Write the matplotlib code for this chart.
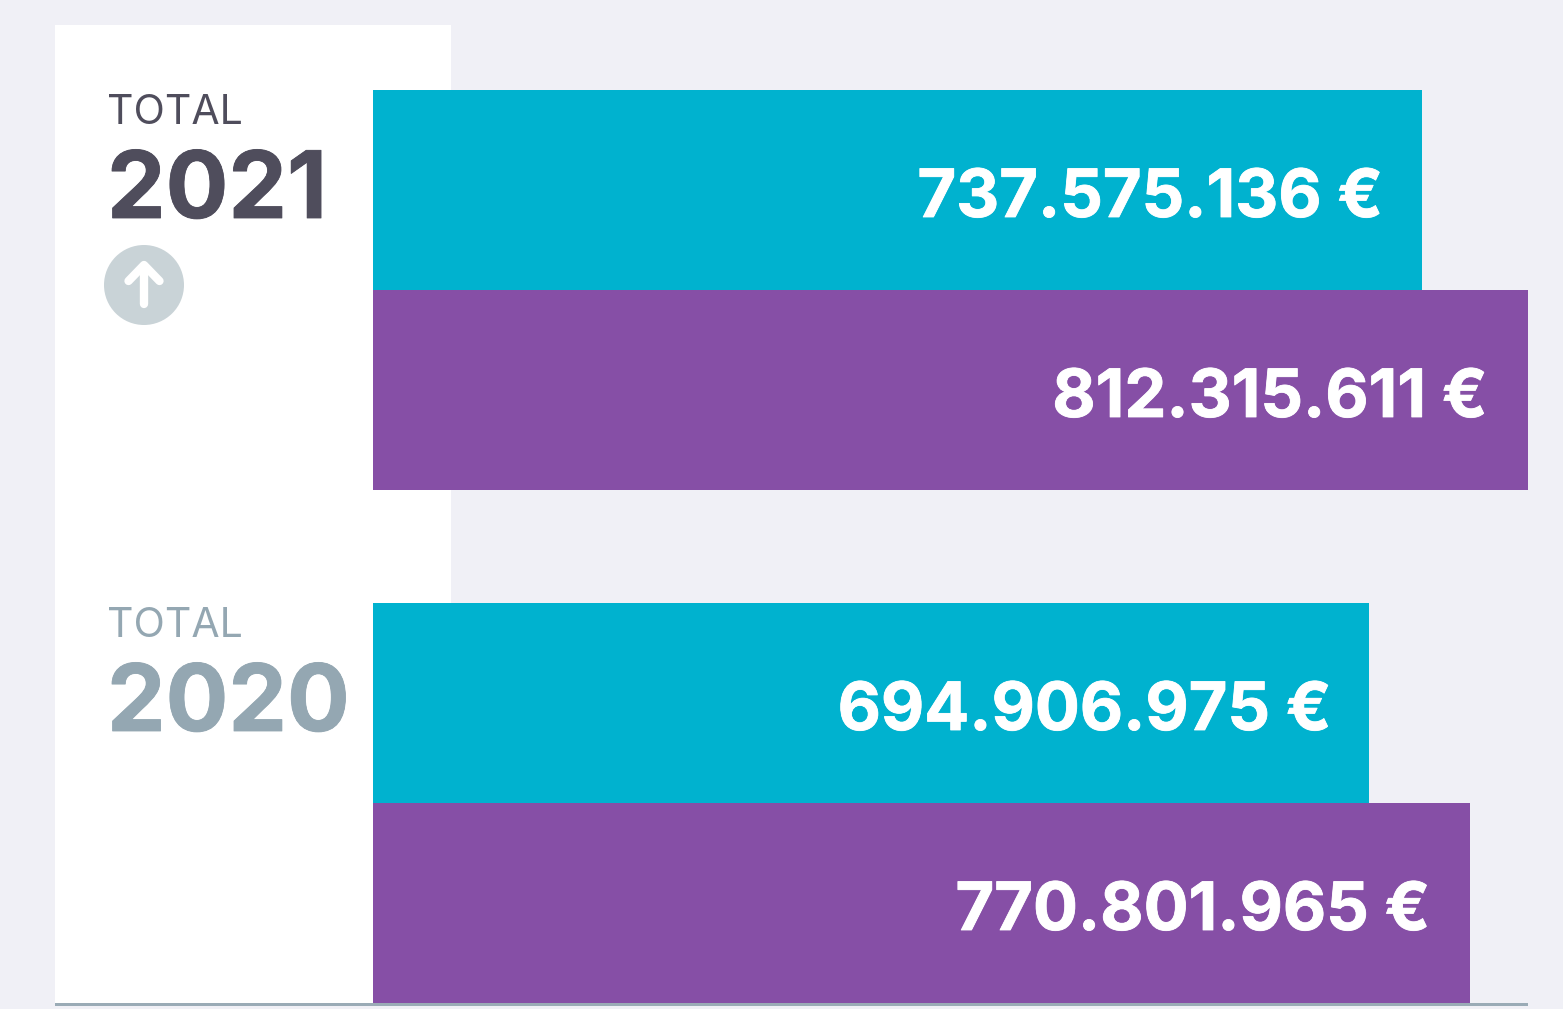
import matplotlib
matplotlib.use("Agg")
import matplotlib.pyplot as plt
import matplotlib.patheffects as pe
from matplotlib.patches import Circle, Rectangle

# bar lengths in millions of euro
bar_values = [737.6, 812.3, 700.3, 771.3]
bar_labels = ["737.575.136 €", "812.315.611 €", "694.906.975 €", "770.801.965 €"]
bar_colors = ["#00b2cf", "#864fa6", "#00b2cf", "#864fa6"]
years = ["2021", "2020"]
total_label = "TOTAL"

W, H = 1563, 1009
fig = plt.figure(figsize=(W / 100, H / 100), dpi=100, facecolor="#f0f0f6")

# overlay in pixels for the white panel and the left hand texts
bg = fig.add_axes([0, 0, 1, 1])
bg.set_xlim(0, W)
bg.set_ylim(H, 0)
bg.axis("off")
bg.add_patch(Rectangle((55, 25), 396, 978, color="white", lw=0))
bg.add_patch(Rectangle((55, 1003), 1473, 3, color="#9aabb6", lw=0))

# bars, y is in units of one bar height
ax = fig.add_axes([373 / W, 1 - 1003 / H, 1155 / W, 913 / H])
ax.patch.set_alpha(0)
ax.set_xlim(0, 812.3)
ax.set_ylim(4.065, -0.5)
ax.axis("off")
y_pos = [0, 1, 2.565, 3.565]
ax.barh(y_pos, bar_values, height=1.0, color=bar_colors, linewidth=0)

pad = [-39, -41, -38, -40]
for i in range(len(bar_values)):
    t = ax.annotate(bar_labels[i], (bar_values[i], y_pos[i]), xytext=(pad[i] * 0.72, -1.8),
                    textcoords="offset points", ha="right", va="center_baseline",
                    color="white", fontsize=48, fontweight="bold", family="Inter")
    t.set_path_effects([pe.withStroke(linewidth=0.6, foreground="white")])

dark = "#4f4d5c"
light = "#94a7b2"
for base_y, year, col in [(124, years[0], dark), (637, years[1], light)]:
    bg.text(107, base_y, total_label, color=col, fontsize=29.5, family="Inter",
            fontweight="normal", ha="left", va="baseline")
    t = bg.text(107, base_y + 94, year, color=col, fontsize=67, family="Inter",
                fontweight="bold", ha="left", va="baseline")
    t.set_path_effects([pe.withStroke(linewidth=0.6, foreground=col)])

# up arrow badge
bg.add_patch(Circle((144, 285), 40, color="#c9d3d7", lw=0))
bg.plot([144, 144], [304, 266], color="white", lw=6, solid_capstyle="round")
bg.plot([128.5, 144, 159.5], [281, 265, 281], color="white", lw=6,
        solid_capstyle="round", solid_joinstyle="round")

fig.savefig("out.png", dpi=100, facecolor=fig.get_facecolor())
